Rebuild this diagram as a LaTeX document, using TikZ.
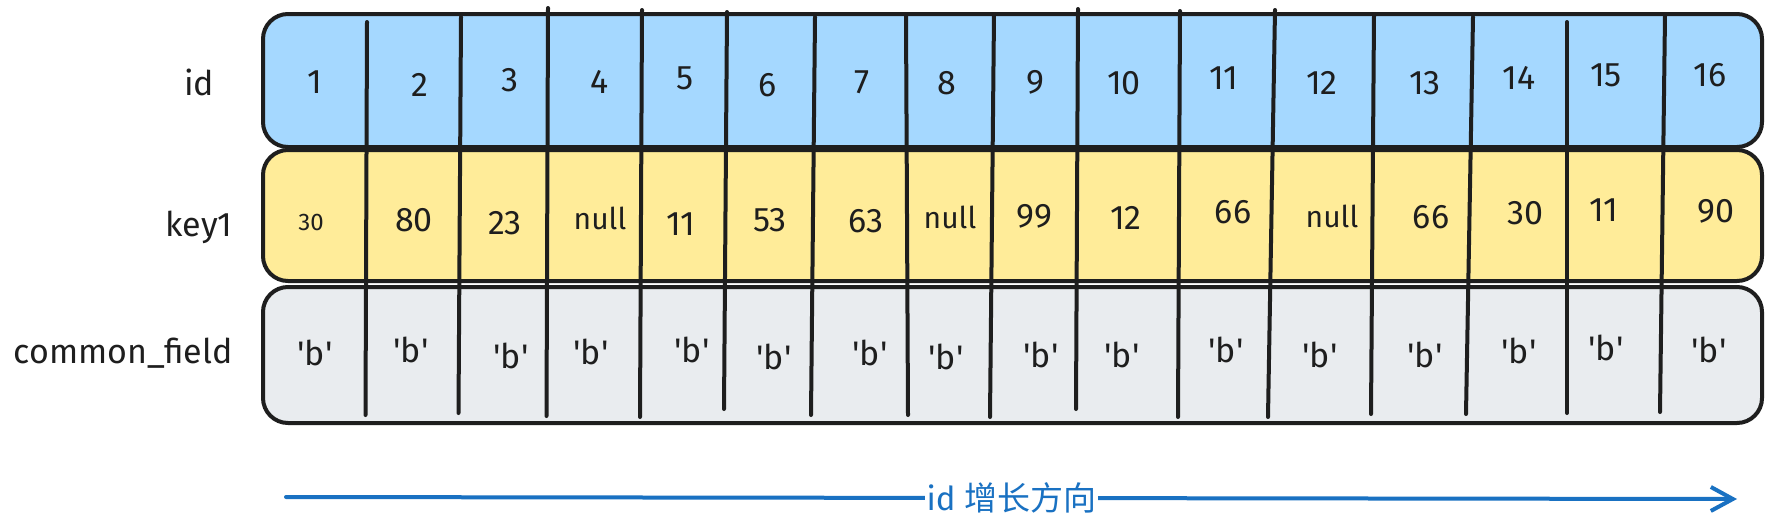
\documentclass[tikz,border=0pt]{standalone}
\usepackage{fontspec}
\setmainfont{Fira Sans}
\newfontfamily\cjk{Noto Sans CJK SC}
\usetikzlibrary{arrows.meta}
\definecolor{inkc}{HTML}{1E1E1E}
\definecolor{blueF}{HTML}{A5D8FF}
\definecolor{yellowF}{HTML}{FFEC99}
\definecolor{grayF}{HTML}{E9ECEF}
\definecolor{arrowc}{HTML}{1971C2}
\begin{document}
\begin{tikzpicture}[x=1pt,y=-1pt,
  rowbox/.style={draw=inkc, line width=4pt, rounded corners=25pt, inner sep=0pt, minimum width=1499pt},
  sepline/.style={draw=inkc, line width=4pt, line cap=round},
  cell/.style={font=\fontsize{34}{40}\selectfont, text=inkc, inner sep=0pt},
  smallcell/.style={cell, font=\fontsize{24}{28}\selectfont},
  nullcell/.style={cell, font=\fontsize{30}{36}\selectfont},
  rowlab/.style={font=\fontsize{34}{40}\selectfont, text=inkc, inner sep=0pt, anchor=base},
  dirarrow/.style={draw=arrowc, line width=4pt, line cap=round, -{Straight Barb[length=22pt,width=24pt,line width=4pt]}},
  dirlab/.style={font=\fontsize{33}{40}\selectfont, text=arrowc, fill=white, inner xsep=2pt, inner ysep=4pt}
]
\useasboundingbox (0,0) rectangle (1773,528);
\fill[white] (0,0) rectangle (1773,528);

% rows
\node[rowbox, fill=blueF, minimum height=133pt] (rowid) at (1012.5,80.5) {};
\node[rowbox, fill=yellowF, minimum height=131pt] (rowkey) at (1012.5,215.5) {};
\node[rowbox, fill=grayF, minimum height=136pt] (rowcom) at (1012.5,355) {};

% column separators
\foreach \xt/\yt/\xb/\yb in {367/22/365.5/415, 461/17/458.5/413, 548/8/546.5/416,
  642/10/640/417, 727/12/724/409, 815/17/811/415, 906/16/908/415, 994/15/990/417,
  1078/9/1076/409, 1180/11/1178/417, 1275/10/1268/417, 1374/15/1371/414,
  1473/17/1466/414, 1567/22/1567/413, 1665/15/1660/412}
  \draw[sepline] (\xt,\yt) -- (\xb,\yb);

% row labels
\node[rowlab] (labid) at (199,95) {id};
\node[rowlab] (labkey) at (199,236) {key1};
\node[rowlab] (labcom) at (123,363) {common\_field};

% id values
\foreach \x/\y/\t [count=\i] in {315/82/1, 420/85/2, 510/80/3, 600/82/4, 685/78/5,
  768/85/6, 862/82/7, 947/83/8, 1035/82/9, 1124/83/10, 1224/78/11, 1322/83/12,
  1425/83/13, 1519/78/14, 1606/75/15, 1710/75/16}
  \node[cell] (id\i) at (\x,\y) {\t};

% key1 values
\node[smallcell] (k1) at (311,222) {30};
\foreach \x/\y/\t [count=\i from 2] in {414/220/80, 505/223/23}
  \node[cell] (k\i) at (\x,\y) {\t};
\node[nullcell] (k4) at (600,218) {null};
\foreach \x/\y/\t [count=\i from 5] in {681/224/11, 770/220/53, 866/221/63}
  \node[cell] (k\i) at (\x,\y) {\t};
\node[nullcell] (k8) at (950,217) {null};
\foreach \x/\y/\t [count=\i from 9] in {1034/216/99, 1126/218/12, 1233/212/66}
  \node[cell] (k\i) at (\x,\y) {\t};
\node[nullcell] (k12) at (1332,216) {null};
\foreach \x/\y/\t [count=\i from 13] in {1431/217/66, 1525/213/30, 1604/210/11, 1716/211/90}
  \node[cell] (k\i) at (\x,\y) {\t};

% common_field values
\foreach \x/\y [count=\i] in {315/353, 411/350, 511/356, 591/352, 692/350, 774/357,
  870/353, 946/357, 1041/355, 1122/355, 1226/350, 1320/355, 1425/355, 1519/351,
  1606/348, 1709/350}
  \node[cell] (c\i) at (\x,\y) {\textquotesingle b\textquotesingle};

% direction arrow
\coordinate (arrs) at (286,497);
\coordinate (arre) at (1737,499);
\draw[dirarrow] (arrs) -- node[dirlab] (arrlab) {id {\cjk 增长方向}} (arre);
\end{tikzpicture}
\end{document}
